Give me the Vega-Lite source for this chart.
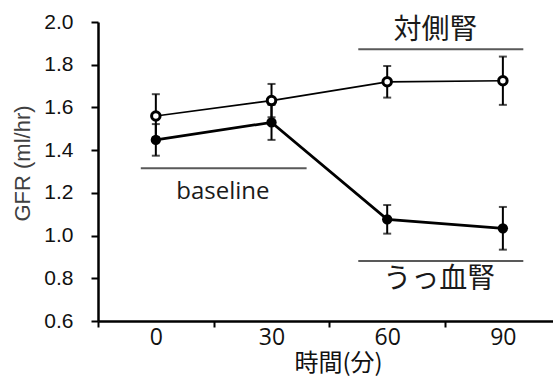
{
  "$schema": "https://vega.github.io/schema/vega-lite/v6.json",
  "width": 455,
  "height": 299,
  "autosize": "none",
  "padding": {"left": 98, "top": 22, "right": 0, "bottom": 55},
  "background": "white",
  "config": {
    "view": {"stroke": null},
    "font": "Liberation Sans"
  },
  "datasets": {
    "pts": [
      {"group": "対側腎", "t": 0, "mean": 1.56, "lo": 1.46, "hi": 1.662},
      {"group": "対側腎", "t": 30, "mean": 1.632, "lo": 1.554, "hi": 1.71},
      {"group": "対側腎", "t": 60, "mean": 1.72, "lo": 1.646, "hi": 1.794},
      {"group": "対側腎", "t": 90, "mean": 1.725, "lo": 1.612, "hi": 1.838},
      {"group": "うっ血腎", "t": 0, "mean": 1.448, "lo": 1.374, "hi": 1.522},
      {"group": "うっ血腎", "t": 30, "mean": 1.53, "lo": 1.448, "hi": 1.612},
      {"group": "うっ血腎", "t": 60, "mean": 1.076, "lo": 1.009, "hi": 1.143},
      {"group": "うっ血腎", "t": 90, "mean": 1.034, "lo": 0.934, "hi": 1.134}
    ],
    "ann": [
      {"label": "baseline", "x1": -3.9, "x2": 39.1, "y": 1.315, "tx": 17.4, "ty": 1.205},
      {"label": "対側腎", "x1": 52.5, "x2": 95.3, "y": 1.872, "tx": 72.5, "ty": 1.959},
      {"label": "うっ血腎", "x1": 52.5, "x2": 95.3, "y": 0.881, "tx": 73.5, "ty": 0.794}
    ]
  },
  "resolve": {"axis": {"x": "independent"}},
  "layer": [
    {
      "data": {"name": "ann"},
      "mark": {"type": "rule", "color": "#595959", "strokeWidth": 2},
      "encoding": {
        "x": {
          "field": "x1", "type": "quantitative",
          "scale": {"domain": [-15, 103], "nice": false, "zero": false},
          "axis": {
            "orient": "bottom", "values": [-15, 15, 45, 75], "labels": false,
            "ticks": true, "tickSize": 6, "tickWidth": 2, "tickColor": "black",
            "domain": true, "domainWidth": 2.5, "domainColor": "black", "grid": false, "title": null
          }
        },
        "x2": {"field": "x2"},
        "y": {
          "field": "y", "type": "quantitative",
          "scale": {"domain": [0.6, 2.0], "nice": false, "zero": false},
          "axis": {
            "values": [0.6, 0.8, 1.0, 1.2, 1.4, 1.6, 1.8, 2.0], "format": ".1f",
            "grid": false, "domainWidth": 2.5, "domainColor": "black",
            "tickSize": 7, "tickWidth": 2, "tickColor": "black",
            "labelFont": "Liberation Sans", "labelFontSize": 21, "labelColor": "#111",
            "labelPadding": 18, "labelBaseline": "middle",
            "title": "GFR (ml/hr)", "titleFont": "Liberation Sans", "titleFontSize": 22,
            "titleFontWeight": "normal", "titleColor": "#404040",
            "titleX": -76, "titleY": 141, "titleAngle": 270,
            "titleAlign": "center", "titleBaseline": "middle"
          }
        }
      }
    },
    {
      "data": {"name": "ann"},
      "mark": {"type": "text", "baseline": "middle", "align": "center", "color": "#1a1a1a", "font": "Noto Sans CJK JP", "fontSize": 28},
      "transform": [{"filter": "datum.label !== 'baseline'"}],
      "encoding": {
        "x": {"field": "tx", "type": "quantitative", "axis": null},
        "y": {"field": "ty", "type": "quantitative"},
        "text": {"field": "label"}
      }
    },
    {
      "data": {"name": "ann"},
      "mark": {"type": "text", "baseline": "middle", "align": "center", "color": "#1a1a1a", "font": "Open Sans", "fontSize": 24},
      "transform": [{"filter": "datum.label === 'baseline'"}],
      "encoding": {
        "x": {"field": "tx", "type": "quantitative", "axis": null},
        "y": {"field": "ty", "type": "quantitative"},
        "text": {"field": "label"}
      }
    },
    {
      "data": {"name": "pts"},
      "transform": [{"filter": "datum.group === '対側腎'"}],
      "mark": {"type": "line", "color": "black", "strokeWidth": 1.7},
      "encoding": {
        "x": {
          "field": "t", "type": "quantitative",
          "axis": {
            "orient": "bottom", "values": [0, 30, 60, 90], "ticks": false, "tickSize": 0,
            "domain": false, "grid": false, "labelFont": "Open Sans", "labelFontSize": 23, "labelColor": "#111",
            "labelPadding": 5, "labelFlush": false, "labelOverlap": false,
            "title": "時間(分)", "titleFont": "Noto Sans CJK JP", "titleFontSize": 24,
            "titleFontWeight": "normal", "titleColor": "#111",
            "titleX": 240, "titleY": 42, "titleAlign": "center", "titleBaseline": "middle"
          }
        },
        "y": {"field": "mean", "type": "quantitative"}
      }
    },
    {
      "data": {"name": "pts"},
      "transform": [{"filter": "datum.group === 'うっ血腎'"}],
      "mark": {"type": "line", "color": "black", "strokeWidth": 2.7},
      "encoding": {
        "x": {"field": "t", "type": "quantitative", "axis": null},
        "y": {"field": "mean", "type": "quantitative"}
      }
    },
    {
      "data": {"name": "pts"},
      "mark": {"type": "rule", "color": "black", "strokeWidth": 2},
      "encoding": {
        "x": {"field": "t", "type": "quantitative", "axis": null},
        "y": {"field": "lo", "type": "quantitative"},
        "y2": {"field": "hi"}
      }
    },
    {
      "data": {"name": "pts"},
      "mark": {"type": "tick", "color": "black", "orient": "horizontal", "size": 8, "thickness": 2},
      "encoding": {
        "x": {"field": "t", "type": "quantitative", "axis": null},
        "y": {"field": "lo", "type": "quantitative"}
      }
    },
    {
      "data": {"name": "pts"},
      "mark": {"type": "tick", "color": "black", "orient": "horizontal", "size": 8, "thickness": 2},
      "encoding": {
        "x": {"field": "t", "type": "quantitative", "axis": null},
        "y": {"field": "hi", "type": "quantitative"}
      }
    },
    {
      "data": {"name": "pts"},
      "transform": [{"filter": "datum.group === 'うっ血腎'"}],
      "mark": {"type": "point", "shape": "circle", "filled": true, "color": "black", "size": 107, "opacity": 1},
      "encoding": {
        "x": {"field": "t", "type": "quantitative", "axis": null},
        "y": {"field": "mean", "type": "quantitative"}
      }
    },
    {
      "data": {"name": "pts"},
      "transform": [{"filter": "datum.group === '対側腎'"}],
      "mark": {"type": "point", "shape": "circle", "filled": true, "fill": "white", "stroke": "black", "strokeWidth": 3, "size": 72, "opacity": 1, "fillOpacity": 1},
      "encoding": {
        "x": {"field": "t", "type": "quantitative", "axis": null},
        "y": {"field": "mean", "type": "quantitative"}
      }
    }
  ]
}
